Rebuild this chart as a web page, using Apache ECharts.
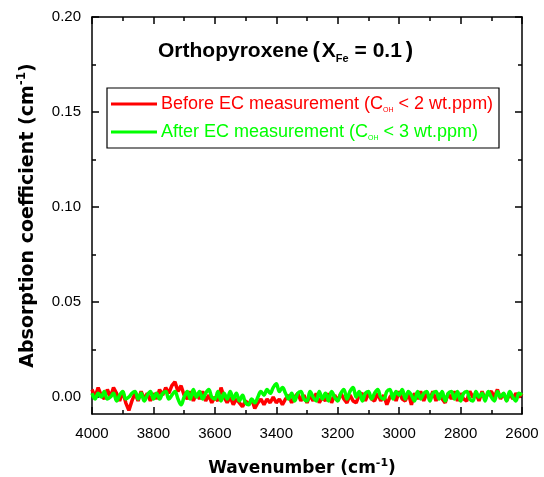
<!DOCTYPE html>
<html lang="en">
<head>
	<meta charset="utf-8" />
	<title>Orthopyroxene OH spectra</title>
	<script src="https://cdn.jsdelivr.net/npm/echarts@6.0.0/dist/echarts.min.js"></script>
	<style>
		html,body{margin:0;padding:0;background:#fff;}
		#main{width:544px;height:477px;}
	</style>
</head>
<body>
<div id="main"></div>
<script>
// wavenumber grid (cm-1), 4000 -> 2600
var wavenumbers = [
	4000,3990,3980,3970,3960,3950,3940,3930,3920,3910,
	3900,3890,3880,3870,3860,3850,3840,3830,3820,3810,
	3800,3790,3780,3770,3760,3750,3740,3730,3720,3710,
	3700,3690,3680,3670,3660,3650,3640,3630,3620,3610,
	3600,3590,3580,3570,3560,3550,3540,3530,3520,3510,
	3500,3490,3480,3470,3460,3450,3440,3430,3420,3410,
	3400,3390,3380,3370,3360,3350,3340,3330,3320,3310,
	3300,3290,3280,3270,3260,3250,3240,3230,3220,3210,
	3200,3190,3180,3170,3160,3150,3140,3130,3120,3110,
	3100,3090,3080,3070,3060,3050,3040,3030,3020,3010,
	3000,2990,2980,2970,2960,2950,2940,2930,2920,2910,
	2900,2890,2880,2870,2860,2850,2840,2830,2820,2810,
	2800,2790,2780,2770,2760,2750,2740,2730,2720,2710,
	2700,2690,2680,2670,2660,2650,2640,2630,2620,2610,
	2600
];
// before EC measurement (red)
var beforeEC = [
	0.004,0.000,0.005,0.001,-0.001,0.004,0.000,0.005,0.002,-0.002,
	0.003,-0.003,-0.007,-0.002,0.002,-0.002,0.003,-0.001,0.002,-0.002,
	0.002,-0.001,0.004,0.001,0.005,0.002,0.006,0.008,0.003,0.006,
	0.001,-0.001,0.003,-0.002,0.002,-0.001,0.003,-0.002,0.001,-0.003,
	0.000,-0.002,0.005,0.000,-0.003,0.000,-0.004,-0.001,-0.003,-0.005,
	-0.002,-0.004,-0.001,-0.006,-0.003,-0.001,-0.004,-0.001,-0.003,0.000,
	-0.003,-0.001,-0.004,-0.001,0.001,-0.003,0.000,0.002,-0.002,0.001,
	-0.003,0.001,-0.002,0.002,-0.003,0.000,-0.002,0.002,-0.003,0.001,
	-0.002,0.002,-0.001,-0.003,0.001,-0.002,-0.003,0.001,0.002,-0.002,
	0.002,-0.001,-0.002,0.002,-0.002,0.001,-0.004,0.000,0.002,-0.002,
	0.003,-0.001,-0.002,0.002,-0.004,0.002,-0.001,0.003,-0.002,0.002,
	-0.001,0.003,-0.002,0.002,-0.001,-0.003,0.002,-0.001,0.003,-0.002,
	0.002,-0.001,-0.002,0.003,0.000,0.002,-0.002,0.003,-0.001,0.002,
	0.003,0.000,0.004,-0.001,0.002,-0.002,0.002,-0.001,0.002,0.000,
	0.002
];
// after EC measurement (green)
var afterEC = [
	0.002,-0.001,0.002,0.000,0.003,-0.001,0.000,0.002,-0.002,0.001,
	0.003,-0.001,0.000,0.002,0.003,-0.001,0.002,-0.002,0.001,0.003,
	-0.001,0.002,-0.001,0.002,0.003,-0.001,0.001,0.003,-0.001,-0.004,
	0.000,0.003,-0.001,0.004,0.000,0.003,-0.001,0.002,0.004,0.000,
	-0.001,0.003,-0.002,0.002,-0.001,0.003,-0.001,0.002,-0.002,0.001,
	-0.003,-0.004,-0.001,-0.003,0.000,0.003,0.001,0.004,0.002,0.005,
	0.007,0.003,0.005,0.002,-0.001,0.002,-0.002,0.002,0.003,-0.001,
	-0.002,0.003,0.000,-0.002,0.003,-0.001,0.002,-0.002,0.003,0.000,
	-0.002,0.002,0.004,-0.001,0.003,0.005,0.000,0.003,-0.002,0.002,
	0.003,-0.001,0.002,0.004,0.000,-0.001,0.003,0.004,-0.001,0.003,
	0.001,0.004,-0.001,0.003,0.001,-0.002,0.003,-0.001,0.002,0.003,
	-0.002,0.002,0.003,-0.001,0.003,-0.002,0.002,0.003,-0.001,0.003,
	-0.002,0.002,0.003,-0.001,-0.002,0.003,0.000,0.002,-0.002,0.003,
	0.000,-0.002,0.003,0.000,0.002,-0.002,0.003,0.000,-0.002,0.002,
	0.001
];
var yMajorTicks = [0, 0.05, 0.10, 0.15, 0.20];
var yMinorTicks = [0.025, 0.075, 0.125, 0.175];

function pairs(xs, ys){
	var out = [];
	for (var i = 0; i < xs.length; i++) out.push([xs[i], ys[i]]);
	return out;
}

var chart = echarts.init(document.getElementById('main'), null, {renderer:'canvas'});

var lbl = {color:'#000', fontFamily:'Liberation Sans', fontSize:15};
var axLine = {show:true, onZero:false, lineStyle:{color:'#000', width:1.5}};

function yAxisDef(pos, ticks, len, withLabel, withLine){
	return {
		type:'value', position:pos, min:-0.0089, max:0.2, offset:0,
		splitLine:{show:false},
		axisLine: withLine ? axLine : {show:false, onZero:false},
		axisTick:{show:true, inside:true, length:len, customValues:ticks, lineStyle:{color:'#000', width:1.5}},
		axisLabel: withLabel ? Object.assign({show:true, margin:11, customValues:yMajorTicks,
			formatter:function(v){ return v.toFixed(2); }}, lbl) : {show:false}
	};
}

function xAxisDef(pos, withLabel){
	return {
		type:'value', position:pos, min:2600, max:4000, interval:200, inverse:true,
		splitLine:{show:false},
		axisLine: axLine,
		axisTick:{show:true, inside:true, length:7, lineStyle:{color:'#000', width:1.5}},
		minorTick:{show:true, splitNumber:2, length:4, lineStyle:{color:'#000', width:1.5}},
		axisLabel: withLabel ? Object.assign({show:true, margin:12, showMinLabel:true, showMaxLabel:true,
			formatter:function(v){ return String(v); }}, lbl) : {show:false}
	};
}

var xBottom = xAxisDef('bottom', true);
xBottom.name = '{t|Wavenumber (cm}{s|-1}{t|)}';
xBottom.nameLocation = 'middle';
xBottom.nameGap = 44;
xBottom.nameTextStyle = {padding:[0,10,0,0], rich:{
	t:{fontFamily:'DejaVu Sans', fontWeight:'bold', fontSize:17, color:'#000', lineHeight:22},
	s:{fontFamily:'DejaVu Sans', fontWeight:'bold', fontSize:11, color:'#000', lineHeight:12, verticalAlign:'top'}
}};

var yLeft = yAxisDef('left', yMajorTicks, 7, true, true);
yLeft.name = '{t|Absorption coefficient (cm}{s|-1}{t|)}';
yLeft.nameLocation = 'middle';
yLeft.nameRotate = 90;
yLeft.nameGap = 52;
yLeft.nameTextStyle = {rich:{
	t:{fontFamily:'DejaVu Sans', fontWeight:'bold', fontSize:19, color:'#000', lineHeight:24},
	s:{fontFamily:'DejaVu Sans', fontWeight:'bold', fontSize:12, color:'#000', lineHeight:13, verticalAlign:'top'}
}};

var legTxt = {fontFamily:'Liberation Sans', fontSize:18, lineHeight:20};
var legSub = {fontFamily:'Liberation Sans', fontSize:7, lineHeight:9, verticalAlign:'bottom'};

var option = {
	backgroundColor:'#fff',
	animation:false,
	grid:{left:92, right:22, top:17, bottom:63, outerBoundsMode:'none', containLabel:false},
	xAxis:[xBottom, xAxisDef('top', false)],
	yAxis:[
		yLeft,
		yAxisDef('left', yMinorTicks, 4, false, false),
		yAxisDef('right', yMajorTicks, 7, false, true),
		yAxisDef('right', yMinorTicks, 4, false, false)
	],
	series:[
		{
			name:'Before EC measurement', type:'line', xAxisIndex:0, yAxisIndex:0,
			data:pairs(wavenumbers, beforeEC), showSymbol:false,
			lineStyle:{color:'#ff0000', width:3.5}, itemStyle:{color:'#ff0000'}, z:2
		},
		{
			name:'After EC measurement', type:'line', xAxisIndex:0, yAxisIndex:0,
			data:pairs(wavenumbers, afterEC), showSymbol:false, smooth:0.4,
			lineStyle:{color:'#00ff00', width:3.5}, itemStyle:{color:'#00ff00'}, z:3
		}
	],
	graphic:[
		{
			type:'text', x:158, y:51,
			style:{
				text:'{a|Orthopyroxene}{p|(}{a|X}{s|Fe}{a| = 0.1}{q|)}',
				verticalAlign:'middle',
				rich:{
					a:{fontFamily:'Liberation Sans', fontWeight:'bold', fontSize:21, fill:'#000', lineHeight:26},
					p:{fontFamily:'Liberation Sans', fontWeight:'bold', fontSize:22, fill:'#000', lineHeight:26, padding:[0,2,0,4]},
					q:{fontFamily:'Liberation Sans', fontWeight:'bold', fontSize:22, fill:'#000', lineHeight:26, padding:[0,0,0,4]},
					s:{fontFamily:'Liberation Sans', fontWeight:'bold', fontSize:11, fill:'#000', lineHeight:12, verticalAlign:'bottom'}
				}
			}
		},
		{
			type:'rect', shape:{x:107, y:88, width:392, height:60},
			style:{fill:'#fff', stroke:'#000', lineWidth:1.2}, z:10
		},
		{
			type:'line', shape:{x1:111, y1:104, x2:157, y2:104},
			style:{stroke:'#ff0000', lineWidth:3}, z:11
		},
		{
			type:'line', shape:{x1:111, y1:132, x2:157, y2:132},
			style:{stroke:'#00ff00', lineWidth:3}, z:11
		},
		{
			type:'text', x:161, y:104, z:11,
			style:{
				text:'{t|Before EC measurement (C}{s|OH}{t| < 2 wt.ppm)}',
				verticalAlign:'middle', fill:'#ff0000',
				rich:{t:Object.assign({fill:'#ff0000'}, legTxt), s:Object.assign({fill:'#ff0000'}, legSub)}
			}
		},
		{
			type:'text', x:161, y:132, z:11,
			style:{
				text:'{t|After EC measurement (C}{s|OH}{t| < 3 wt.ppm)}',
				verticalAlign:'middle', fill:'#00ff00',
				rich:{t:Object.assign({fill:'#00ff00'}, legTxt), s:Object.assign({fill:'#00ff00'}, legSub)}
			}
		}
	]
};

chart.setOption(option);
</script>
</body>
</html>
